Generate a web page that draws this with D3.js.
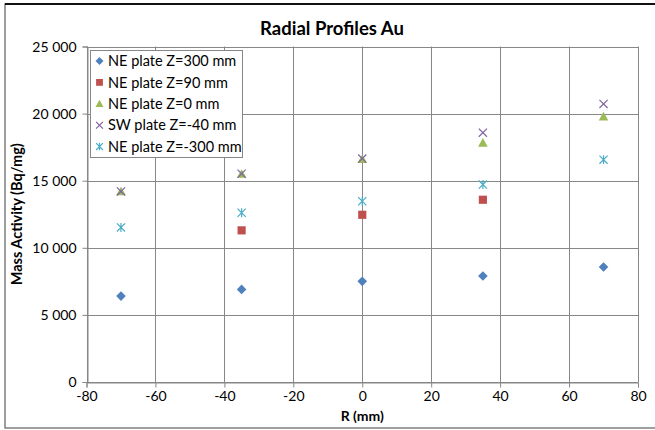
<!DOCTYPE html>
<html><head><meta charset="utf-8">
<script src="https://cdn.jsdelivr.net/npm/d3@7"></script>
<style>
html,body{margin:0;padding:0;background:#fff;}
svg{display:block;font-family:Lato,"Open Sans",sans-serif;}
</style></head>
<body><svg id="c" width="655" height="430"></svg>
<script>
const radius = [-70, -35, 0, 35, 70];
const seriesNames = ["NE plate Z=300 mm","NE plate Z=90 mm","NE plate Z=0 mm","SW plate Z=-40 mm","NE plate Z=-300 mm"];
const neZ300 = [6400, 6900, 7500, 7900, 8570];
const neZ90  = [null, 11300, 12460, 13580, null];
const neZ0   = [14200, 15500, 16600, 17820, 19780];
const swZm40 = [14200, 15520, 16650, 18580, 20720];
const neZm300= [11520, 12610, 13470, 14710, 16570];
const xTicks = [-80,-60,-40,-20,0,20,40,60,80];
const yTicks = [0,5000,10000,15000,20000,25000];
const colors = ["#4F81BD","#C0504D","#9BBB59","#8064A2","#4BACC6"];
const shapes = ["diamond","square","triangle","x","star"];
const title = "Radial Profiles Au";
const xTitle = "R (mm)";
const yTitle = "Mass Activity (Bq/mg)";

const allSeries = [neZ300, neZ90, neZ0, swZm40, neZm300];
const svg = d3.select("#c");
const W = 655, H = 430;
const plot = {l: 86.5, r: 638, t: 46.5, b: 382};
const x = d3.scaleLinear().domain([-80,80]).range([plot.l, plot.r]);
const y = d3.scaleLinear().domain([0,25000]).range([plot.b, plot.t]);
const fmt = d3.formatLocale({decimal:".",thousands:"\u2009",grouping:[3],currency:["",""]}).format(",");
const fmtS = v => fmt(v).replace("\u2009"," ");
const grid = "#878787";

// outer border
svg.append("rect").attr("x",5).attr("y",4).attr("width",W+10).attr("height",424)
  .attr("fill","#fff").attr("stroke","#6b6b6b").attr("stroke-width",1.3);
svg.append("line").attr("x1",5).attr("x2",W).attr("y1",4).attr("y2",4)
  .attr("stroke","#111").attr("stroke-width",2);

// gridlines
svg.append("g").selectAll("line").data(yTicks).join("line")
  .attr("x1",plot.l).attr("x2",plot.r)
  .attr("y1",d=>Math.round(y(d))+0.5).attr("y2",d=>Math.round(y(d))+0.5)
  .attr("stroke",grid).attr("stroke-width",1);
svg.append("g").selectAll("line").data(xTicks).join("line")
  .attr("y1",plot.t).attr("y2",plot.b)
  .attr("x1",d=>Math.round(x(d))+0.5).attr("x2",d=>Math.round(x(d))+0.5)
  .attr("stroke",grid).attr("stroke-width",1);

// axes
const yAxis = d3.axisLeft(y).tickValues(yTicks).tickFormat(fmtS).tickSize(5).tickPadding(6);
const gy = svg.append("g").attr("transform",`translate(${Math.round(plot.l)+0.5},0)`).call(yAxis);
const xAxis = d3.axisBottom(x).tickValues(xTicks).tickFormat(d => String(d)).tickSize(5).tickPadding(4);
const gx = svg.append("g").attr("transform",`translate(0,${Math.round(plot.b)+0.5})`).call(xAxis);
[gx,gy].forEach(g=>{
  g.select(".domain").attr("stroke",grid);
  g.selectAll(".tick line").attr("stroke",grid);
  g.selectAll("text").attr("fill","#000").style("font-size","14px").style("font-family","Lato, sans-serif");
});
gy.selectAll(".tick text").attr("dy","0.35em");

// titles
svg.append("text").attr("x",332).attr("y",35).attr("text-anchor","middle")
  .style("font-weight","bold").style("font-size","18.5px").text(title);
svg.append("text").attr("x",(plot.l+plot.r)/2).attr("y",421).attr("text-anchor","middle")
  .style("font-weight","bold").style("font-size","14px").text(xTitle);
svg.append("text").attr("transform",`translate(22,${(plot.t+plot.b)/2}) rotate(-90)`)
  .attr("text-anchor","middle").style("font-weight","bold").style("font-size","14.5px").text(yTitle);

// marker drawing
function marker(g, shape, color, s){
  if(shape==="diamond"){
    g.append("path").attr("d",`M0,${-s}L${s},0L0,${s}L${-s},0Z`).attr("fill",color);
  } else if(shape==="square"){
    g.append("rect").attr("x",-s*0.85).attr("y",-s*0.85).attr("width",s*1.7).attr("height",s*1.7).attr("fill",color);
  } else if(shape==="triangle"){
    g.append("path").attr("d",`M0,${-s}L${s},${s*0.8}L${-s},${s*0.8}Z`).attr("fill",color);
  } else if(shape==="x"){
    const a=s*0.85;
    g.append("path").attr("d",`M${-a},${-a}L${a},${a}M${-a},${a}L${a},${-a}`)
      .attr("stroke",color).attr("stroke-width",1.2).attr("fill","none");
  } else if(shape==="star"){
    const a=s*0.85;
    g.append("path").attr("d",`M${-a},${-a}L${a},${a}M${-a},${a}L${a},${-a}M0,${-a*1.1}L0,${a*1.1}`)
      .attr("stroke",color).attr("stroke-width",1.2).attr("fill","none");
  }
}

// points
allSeries.forEach((vals,i)=>{
  const pts = radius.map((r,j)=>({r, v: vals[j]})).filter(d=>d.v!=null);
  const g = svg.append("g");
  pts.forEach(p=>{
    const m = g.append("g").attr("transform",`translate(${x(p.r)},${y(p.v)})`);
    marker(m, shapes[i], colors[i], 4.8);
  });
});

// legend
const lg = svg.append("g");
lg.append("rect").attr("x",90.5).attr("y",50.5).attr("width",152).attr("height",107)
  .attr("fill","#fff").attr("stroke","#878787").attr("stroke-width",1);
seriesNames.forEach((n,i)=>{
  const yy = 61 + i*21.4;
  const m = lg.append("g").attr("transform",`translate(99.5,${yy})`);
  marker(m, shapes[i], colors[i], 4);
  lg.append("text").attr("x",108).attr("y",yy).attr("dy","0.36em")
    .style("font-size","14.5px").text(n);
});
</script></body></html>
